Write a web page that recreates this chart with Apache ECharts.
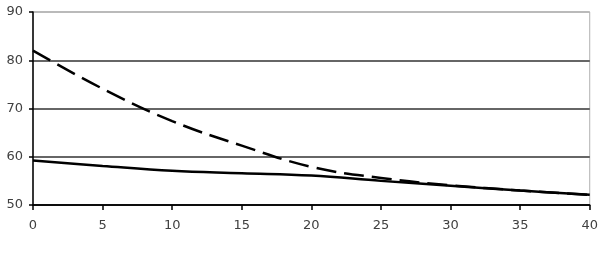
<!DOCTYPE html>
<html>
<head>
<meta charset="utf-8">
<script src="https://cdn.jsdelivr.net/npm/echarts@6/dist/echarts.min.js"></script>
<style>
  html, body { margin: 0; padding: 0; background: #fff; }
  #chart { width: 601px; height: 258px; }
</style>
</head>
<body>
<div id="chart"></div>
<script>
// x positions
const xValues = [0, 5, 10, 15, 20, 25, 30, 35, 40]
// dashed curve
const dashedValues = [82, 74.1, 67.4, 62.3, 57.9, 55.6, 54.1, 53, 52.1]
// solid curve
const solidValues = [59.2, 58.1, 57.1, 56.6, 56.1, 55, 54, 53, 52.1]

const toPairs = (ys) => xValues.map((x, i) => [x, ys[i]])

const chart = echarts.init(document.getElementById('chart'))

const labelStyle = {
  fontFamily: 'DejaVu Sans',
  fontSize: 13,
  color: '#404040'
}

chart.setOption({
  animation: false,
  grid: {
    left: 33,
    right: 8,
    top: 12,
    bottom: 53,
    show: true,
    borderColor: '#b0b0b0',
    borderWidth: 1
  },
  xAxis: {
    type: 'value',
    min: 0,
    max: 40,
    interval: 5,
    axisLine: { show: true, lineStyle: { color: '#000', width: 1.5 } },
    axisTick: { show: true, length: 5, lineStyle: { color: '#000', width: 1.5 } },
    axisLabel: { ...labelStyle, margin: 14 },
    splitLine: { show: false }
  },
  yAxis: {
    type: 'value',
    min: 50,
    max: 90,
    interval: 10,
    axisLine: { show: true, lineStyle: { color: '#000', width: 1.5 } },
    axisTick: { show: true, length: 4, lineStyle: { color: '#000', width: 1.5 } },
    axisLabel: { ...labelStyle, margin: 10 },
    splitLine: {
      show: true,
      lineStyle: {
        color: ['#000', '#333', '#333', '#333', '#b0b0b0'],
        width: 1.5
      }
    }
  },
  series: [
    {
      name: 'dashed',
      type: 'line',
      data: toPairs(dashedValues),
      smooth: 0.4,
      showSymbol: false,
      lineStyle: { color: '#000', width: 2.5, type: [20, 8] }
    },
    {
      name: 'solid',
      type: 'line',
      data: toPairs(solidValues),
      smooth: 0.4,
      showSymbol: false,
      lineStyle: { color: '#000', width: 2.5 }
    }
  ]
})
</script>
</body>
</html>
